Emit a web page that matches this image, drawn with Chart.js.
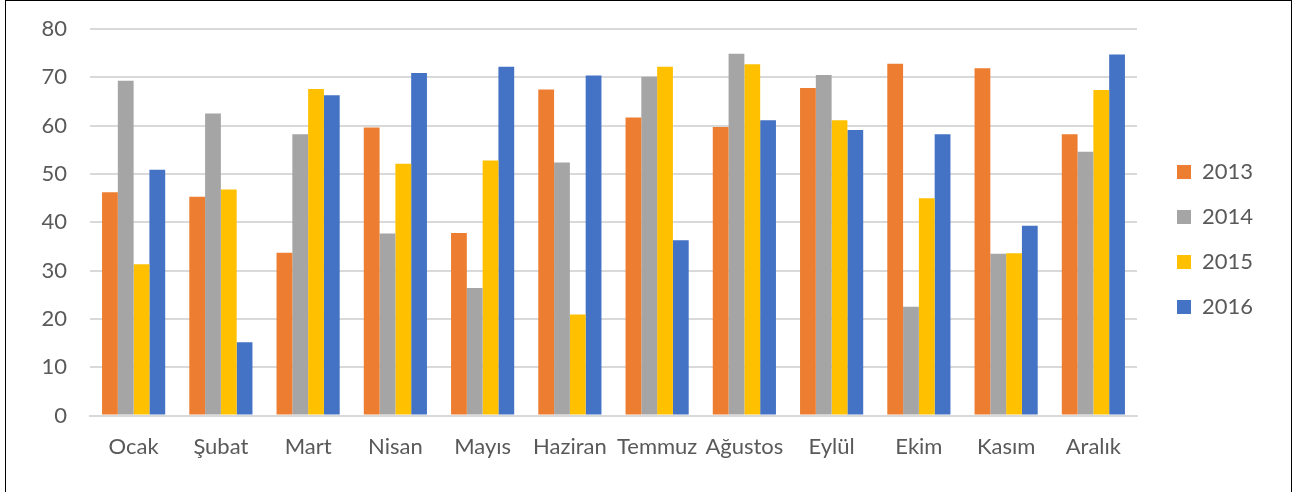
<!DOCTYPE html>
<html>
<head>
<meta charset="utf-8">
<script src="https://cdn.jsdelivr.net/npm/chart.js@4"></script>
<style>
  html, body { margin: 0; padding: 0; background: #fff; overflow: hidden; }
  #frame {
    position: absolute; left: 5px; top: 0;
    width: 1285px; height: 500px;
    border: 1px solid #000;
  }
  #wrap { width: 1285px; height: 491px; }
</style>
</head>
<body>
<div id="frame"><div id="wrap"><canvas id="grafik"></canvas></div></div>
<script>
const ctx = document.getElementById('grafik')

// veriler
const aylar = ['Ocak', 'Şubat', 'Mart', 'Nisan', 'Mayıs', 'Haziran', 'Temmuz', 'Ağustos', 'Eylül', 'Ekim', 'Kasım', 'Aralık']
const yil2013 = [46.2, 45.3, 33.7, 59.6, 37.8, 67.5, 61.7, 59.7, 67.8, 72.8, 71.9, 58.2]
const yil2014 = [69.3, 62.5, 58.2, 37.7, 26.4, 52.4, 70.1, 74.9, 70.5, 22.5, 33.5, 54.6]
const yil2015 = [31.3, 46.8, 67.6, 52.1, 52.8, 20.9, 72.2, 72.7, 61.1, 45.0, 33.6, 67.4]
const yil2016 = [50.9, 15.2, 66.3, 70.9, 72.2, 70.4, 36.3, 61.1, 59.1, 58.2, 39.3, 74.7]
const yTikler = [0, 10, 20, 30, 40, 50, 60, 70, 80]

Chart.defaults.font.family = 'Lato, "Open Sans", sans-serif'
Chart.defaults.font.size = 22
Chart.defaults.color = '#595959'

// legend genişliği ve konumu
const legendAyar = {
  id: 'legendAyar',
  beforeInit(chart) {
    const fit = chart.legend.fit
    chart.legend.fit = function () {
      fit.call(this)
      this.width = 148
    }
  },
  afterLayout(chart) {
    const lg = chart.legend
    lg.left += 17
    lg.right += 17
    lg.top -= 14
    lg.bottom -= 14
  }
}

const data = {
  labels: aylar,
  datasets: [
    { label: '2013', data: yil2013, backgroundColor: '#ED7D31' },
    { label: '2014', data: yil2014, backgroundColor: '#A5A5A5' },
    { label: '2015', data: yil2015, backgroundColor: '#FFC000' },
    { label: '2016', data: yil2016, backgroundColor: '#4472C4' }
  ]
}

const config = {
  type: 'bar',
  data,
  plugins: [legendAyar],
  options: {
    responsive: true,
    maintainAspectRatio: false,
    animation: false,
    layout: { padding: { top: 28, bottom: 14, left: 0, right: 6 } },
    datasets: { bar: { categoryPercentage: 0.724, barPercentage: 1 } },
    plugins: {
      legend: {
        position: 'right',
        labels: { boxWidth: 14, boxHeight: 14, padding: 23, color: '#595959' }
      },
      tooltip: { enabled: false }
    },
    scales: {
      x: {
        grid: { display: false, drawTicks: false },
        border: { display: true, color: '#d9d9d9', width: 2 },
        ticks: { padding: 18, maxRotation: 0, autoSkip: false }
      },
      y: {
        min: 0,
        max: 80,
        afterFit(scale) {
          scale.width = 84
          scale.paddingTop = 0
          scale.paddingBottom = 0
        },
        afterBuildTicks(scale) { scale.ticks = yTikler.map(v => ({ value: v })) },
        grid: { color: '#d9d9d9', lineWidth: 2, drawTicks: false },
        border: { display: false },
        ticks: { padding: 23 }
      }
    }
  }
}

const grafik = new Chart(ctx, config)
</script>
</body>
</html>
